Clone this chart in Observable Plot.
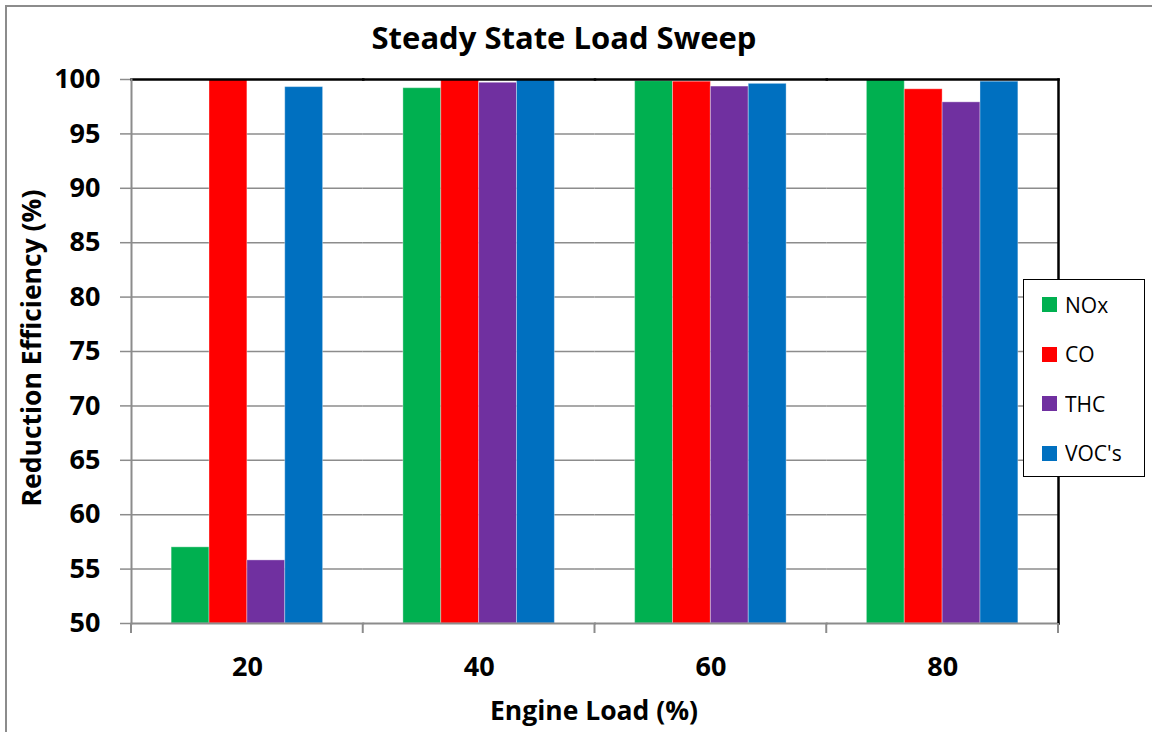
<!DOCTYPE html>
<html>
<head>
<meta charset="utf-8">
<script src="https://cdn.jsdelivr.net/npm/d3@7"></script>
<script src="https://cdn.jsdelivr.net/npm/@observablehq/plot@0.6"></script>
<style>
  html, body { margin: 0; padding: 0; background: #fff; overflow: hidden; }
  #chart { position: relative; width: 1152px; height: 732px; font-family: "Open Sans", sans-serif; color: #000; }
  #outline { position: absolute; left: 5px; top: 5px; width: 1300px; height: 900px; border: 2px solid #8c8c8c; box-sizing: border-box; }
  #title { position: absolute; left: 0; top: 16px; width: 1128px; text-align: center; font-weight: bold; font-size: 31px; line-height: 42px; }
  #xlabel { position: absolute; left: 0; top: 690px; width: 1188px; text-align: center; font-weight: bold; font-size: 26.5px; line-height: 40px; }
  #ylabel { position: absolute; left: 31px; top: 348px; transform: translate(-50%, -50%) rotate(-90deg); white-space: nowrap; font-weight: bold; font-size: 26.5px; line-height: 30px; }
  #plot { position: absolute; left: 0; top: 0; }
  #legend { position: absolute; left: 1023px; top: 279px; width: 122px; height: 198px; border: 1.5px solid #000; box-sizing: border-box; background: #fff; }
  #legend .lg-swatches { font-family: "Open Sans", sans-serif; font-size: 21px; margin: 0; padding: 0 0 0 18px; }
  #legend .lg-swatch { height: 49.5px; display: flex; align-items: center; padding: 0; }
  #legend .lg-swatch svg { margin-right: 8px; }
</style>
</head>
<body>
<div id="chart">
  <div id="outline"></div>
  <div id="plot"></div>
  <div id="title"></div>
  <div id="xlabel"></div>
  <div id="ylabel"></div>
  <div id="legend"></div>
</div>
<script>
// Engine loads (%) on the x axis
const loads = ["20", "40", "60", "80"];
// Pollutant series and their fill colours
const pollutants = ["NOx", "CO", "THC", "VOC's"];
const seriesColors = ["#00B050", "#FF0000", "#7030A0", "#0070C0"];
// Reduction efficiency (%) per load, one array per pollutant
const noxValues = [57.0, 99.2, 99.85, 100.0];
const coValues  = [100.0, 100.0, 99.8, 99.1];
const thcValues = [55.8, 99.7, 99.35, 97.9];
const vocValues = [99.3, 100.0, 99.6, 99.8];
// Y axis range and ticks
const yDomain = [50, 100];
const yTicks = [50, 55, 60, 65, 70, 75, 80, 85, 90, 95, 100];
const titleText = "Steady State Load Sweep";
const xTitle = "Engine Load (%)";
const yTitle = "Reduction Efficiency (%)";

const seriesValues = [noxValues, coValues, thcValues, vocValues];
const rows = [];
loads.forEach((load, i) => {
  pollutants.forEach((p, j) => rows.push({load, pollutant: p, value: seriesValues[j][i]}));
});

const gray = "#8c8c8c";

const plot = Plot.plot({
  width: 1152,
  height: 732,
  marginLeft: 131,
  marginRight: 94,
  marginTop: 79,
  marginBottom: 109,
  style: {fontFamily: "'Open Sans', sans-serif", background: "transparent", overflow: "visible"},
  fx: {domain: loads, paddingInner: 0, paddingOuter: 0, round: false, label: null},
  x: {domain: pollutants, paddingInner: 0, paddingOuter: 1.06, round: false, axis: null},
  y: {domain: yDomain, label: null},
  color: {domain: pollutants, range: seriesColors},
  marks: [
    Plot.gridY(yTicks.slice(1, -1), {stroke: gray, strokeOpacity: 1, strokeWidth: 1.5}),
    Plot.barY(rows, {fx: "load", x: "pollutant", y1: yDomain[0], y2: "value", fill: "pollutant",
      stroke: "#ffffff", strokeOpacity: 0.35, strokeWidth: 1}),
    Plot.axisY(yTicks, {anchor: "left", tickSize: 11, tickPadding: 20, stroke: gray, strokeWidth: 1.5,
      fontSize: 27, fontWeight: "bold", label: null}),
    Plot.axisFx({anchor: "bottom", tickSize: 0, tickPadding: 33, fontSize: 27, fontWeight: "bold", label: null}),
    Plot.frame({anchor: "top", stroke: "#000", strokeWidth: 2.5}),
    Plot.frame({anchor: "bottom", stroke: gray, strokeWidth: 2}),
    Plot.frame({anchor: "left", stroke: gray, strokeWidth: 2, facet: "super"}),
    Plot.frame({anchor: "right", stroke: "#000", strokeWidth: 2.5, facet: "super"})
  ]
});

// Category boundary ticks below the x axis, placed from the fx band scale
const fx = plot.scale("fx");
const y = plot.scale("y");
const yBase = y.apply(yDomain[0]);
const edges = loads.map(d => fx.apply(d)).concat([fx.apply(loads[loads.length - 1]) + fx.bandwidth]);
const svg = d3.select(plot.tagName.toLowerCase() === "svg" ? plot : plot.querySelector("svg"));
svg.append("g").selectAll("line").data(edges).join("line")
  .attr("x1", d => d).attr("x2", d => d)
  .attr("y1", yBase).attr("y2", yBase + 10)
  .attr("stroke", gray).attr("stroke-width", 2);

document.getElementById("plot").append(plot);

document.getElementById("title").textContent = titleText;
document.getElementById("xlabel").textContent = xTitle;
document.getElementById("ylabel").textContent = yTitle;

const legend = Plot.legend({
  color: {domain: pollutants, range: seriesColors},
  legend: "swatches",
  columns: 1,
  swatchSize: 15,
  className: "lg"
});
document.getElementById("legend").append(legend);
</script>
</body>
</html>
